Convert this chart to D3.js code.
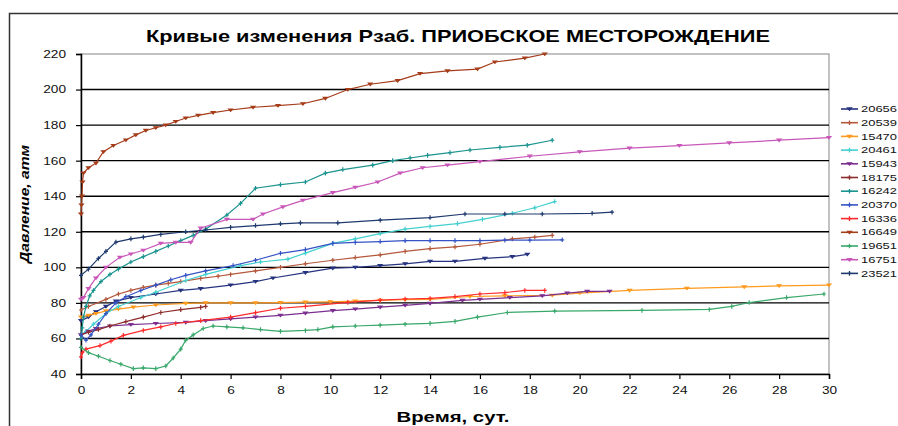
<!DOCTYPE html>
<html lang="ru">
  <head>
    <meta charset="utf-8" />
    <style>
      body { margin: 0; background: #fff; }
      svg { display: block; font-family: Arial, "Liberation Sans", sans-serif; }
    </style>
  </head>
  <body>
    <svg id="chart" width="898" height="426"></svg>
    <script src="https://cdn.jsdelivr.net/npm/d3@7"></script>
    <script>
      // well numbers in legend order
      const wells = ["20656", "20539", "15470", "20461", "15943", "18175", "16242",
                     "20370", "16336", "16649", "19651", "16751", "23521"];
      const colors = ["#26337f", "#b4583c", "#ff9a1e", "#45d0d0", "#7b2f8f", "#8e2d2d", "#1c9490",
                      "#3553c4", "#ff2b2b", "#a53c1a", "#39a86a", "#c957b9", "#1f3a6e"];
      const shapes = ["tri", "plus", "tri", "plus", "tri", "plus", "plus",
                      "plus", "plus", "tri", "plus", "tri", "plus"];

      // [day, pressure atm]
      const p20656 = [[0,70],[0.3,72],[0.6,75],[1,78],[1.4,81],[2,83],[3,85],[4,87],[4.8,88],
                      [6,90],[7,92],[7.7,94],[9,97],[10.1,99.5],[11,100],[12,101],[13,102],
                      [14,103.4],[15,103.4],[16.2,105],[17.3,106],[17.9,107.3]];
      const p20539 = [[0,76],[0.3,78],[1,82],[1.5,85],[2,87],[2.5,88.7],[3,90],[3.5,91],
                      [4,92],[4.8,93.8],[5.5,95],[6,96],[7,98],[8,100],[9,102],[10.1,104],
                      [11,105.5],[12,107],[13,109],[14,110.5],[15,111.5],[16,113],[17.3,116],
                      [18.2,117],[18.9,118]];
      const p15470 = [[0,72],[0.3,73],[0.6,74],[1,75.5],[1.5,76.5],[2.1,77.6],[3,78.8],[4.2,79.7],
                      [5,80],[6,80],[7,80],[8,80.2],[9,80.4],[10,80.6],[11,81],[12,81.4],[13,81.8],
                      [14,82],[15.6,83.6],[17,84],[18.9,84.3],[20,85.5],[22,87],[24.3,88.2],
                      [26.6,89],[28,89.6],[30,90]];
      const p20461 = [[0,62],[0.2,64],[0.5,68],[1,74],[1.5,78],[2.4,83],[3,86],[4.2,92.6],
                      [5,96],[6.4,101],[7.2,103],[8.3,104.6],[9,108],[10.1,113.5],[11,116],
                      [12,119],[13,121.5],[14,123],[15.1,124.6],[16.1,127],[17.3,130.4],
                      [18.2,133.5],[19,137]];
      const p15943 = [[0,62],[0.3,64],[0.6,65.5],[1.16,67],[2,67.8],[3,68.4],[4.2,69],[5,70],
                      [6,71],[7,72],[8,73],[9,74.2],[10.1,75.6],[11,76.5],[12,77.6],[13,78.6],
                      [14,79.7],[15.3,81.4],[16,82],[17.2,83],[18.5,84],[19.5,85.5],[20.3,86.5],
                      [21.2,86.5]];
      const p18175 = [[0,62],[0.3,63.5],[0.7,65],[1.16,67],[1.8,69.5],[2.5,72],[3.2,74.6],
                      [4,76.2],[4.8,77.5],[5,78]];
      const p16242 = [[0,60],[0.05,66],[0.1,72],[0.2,78],[0.35,84],[0.5,87],[0.8,92],[1.16,96],
                      [1.5,99],[2,103],[2.5,106],[3,109],[3.5,112],[4,115],[4.5,118],[5,121.5],
                      [5.85,129.4],[6.4,136],[7,144.5],[8,146.5],[9,148],[9.8,153],[10.5,155],
                      [11.7,157.5],[12.5,160],[13.2,161.5],[13.9,163],[14.8,164.5],[15.6,166],
                      [16.8,167.5],[17.9,168.7],[18.9,171.5]];
      const p20370 = [[0,62],[0.2,59],[0.4,62],[0.7,68],[1,74],[1.4,80],[1.8,83.5],[2.4,87],
                      [3,90],[3.6,93],[4.2,95.5],[5,98],[6.1,101],[7,104],[8,107.9],[9,110],
                      [10.1,113.5],[11,114],[12,114.5],[13,115],[14,115],[15,115],[16,115],
                      [17,115.3],[18,115.3],[19.3,115.5]];
      const p16336 = [[0,49.6],[0.05,52],[0.2,54],[0.76,56],[1.2,58.5],[1.7,61.7],[2.5,64.5],
                      [3.2,66.5],[3.8,68.4],[4.8,70],[6,72],[7,74.5],[8,77],[9,78],[10.7,80.3],
                      [12,81.5],[13,82.2],[14,82.5],[15,83.5],[16,85],[17,85.8],[17.8,87],[18.6,87]];
      const p16649 = [[0,130],[0.02,135],[0.04,140],[0.06,148],[0.1,153],[0.3,156],[0.6,158.6],
                      [0.9,165],[1.3,168.5],[1.8,171.6],[2.2,174.5],[2.6,177],[3,178.5],[3.4,180],
                      [3.8,182],[4.2,184],[4.7,185.5],[5.3,187],[6,188.5],[6.9,190],[7.9,191],
                      [8.9,192],[9.8,195],[10.7,200],[11.6,203],[12.7,205],[13.6,209],[14.7,210.5],
                      [15.9,211.5],[16.6,215.5],[17.8,217.7],[18.6,220]];
      const p19651 = [[0,55],[0.3,52],[0.7,50],[1.16,47.6],[1.6,45.5],[2.1,43],[2.5,43.5],[3,43],
                      [3.4,44.5],[3.7,49],[4,54],[4.2,59],[4.5,62],[4.9,65.6],[5.3,67],[5.85,66.5],
                      [6.5,66],[7.2,65],[8,64],[9,64.5],[9.5,65],[10.1,66.5],[11,67],[12,67.5],
                      [13,68],[14,68.5],[15,69.6],[15.9,72],[17.1,74.6],[19,75.4],[22.5,75.8],
                      [25.2,76.3],[26.1,78],[26.8,80.2],[28.3,83],[29.8,85]];
      const p16751 = [[0,82],[0.1,83],[0.3,88],[0.6,94],[1,100],[1.56,105.6],[2,107.5],[2.5,109.6],
                      [3.2,113.5],[3.8,114],[4.4,114],[4.8,122],[5.85,127],[6.9,127],[7.3,130],
                      [8.1,134],[8.9,137.7],[10.1,142],[11,145],[11.9,148],[12.8,153],[13.7,156],
                      [14.7,157.5],[16,159.5],[18,162.5],[20,165],[22,167],[24,168.5],[26,170],
                      [28,171.5],[30,173]];
      const p23521 = [[0,95.5],[0.3,99],[0.7,105],[1,109],[1.4,114.2],[2,116],[2.5,117],
                      [3.2,118.5],[4.2,120],[5,121],[6,122.5],[7,123.5],[8,124.5],[8.8,125],
                      [10.3,125],[12,126.5],[14,128],[15.4,130],[17,130],[18.5,130],[20.5,130.4],
                      [21.3,131]];
      const pressures = [p20656, p20539, p15470, p20461, p15943, p18175, p16242,
                         p20370, p16336, p16649, p19651, p16751, p23521];

      const xTicks = d3.range(0, 31, 2);
      const yTicks = d3.range(40, 221, 20);

      const svg = d3.select("#chart");
      const plotL = 81, plotR = 829, plotT = 54, plotB = 374;

      const x = d3.scaleLinear().domain([0, 30]).range([plotL, plotR]);
      const y = d3.scaleLinear().domain([40, 220]).range([plotB, plotT]);

      // outer chart frame (cut by the picture edge)
      svg.append("rect")
        .attr("x", 9.5).attr("y", 13.5)
        .attr("width", 1000).attr("height", 1000)
        .attr("fill", "none").attr("stroke", "#333").attr("stroke-width", 1.5);

      // plot area border
      svg.append("rect")
        .attr("x", plotL).attr("y", plotT)
        .attr("width", plotR - plotL).attr("height", plotB - plotT)
        .attr("fill", "none").attr("stroke", "#999").attr("stroke-width", 1.2);

      // grid
      svg.append("g")
        .selectAll("line")
        .data(yTicks.filter(v => v > 40 && v < 220))
        .join("line")
        .attr("x1", plotL).attr("x2", plotR)
        .attr("y1", d => y(d)).attr("y2", d => y(d))
        .attr("stroke", "#000").attr("stroke-width", 1.4);

      const xAxis = svg.append("g")
        .attr("transform", `translate(0,${plotB})`)
        .call(d3.axisBottom(x).tickValues(xTicks).tickSize(5).tickPadding(8));
      const yAxis = svg.append("g")
        .attr("transform", `translate(${plotL},0)`)
        .call(d3.axisLeft(y).tickValues(yTicks).tickSize(5).tickPadding(10));
      [xAxis, yAxis].forEach(a => {
        a.select(".domain").attr("stroke", "#000").attr("stroke-width", 1.5);
        a.selectAll(".tick line").attr("stroke", "#000").attr("stroke-width", 1.2);
        a.selectAll("text").attr("font-size", 10.5).attr("fill", "#111")
          .attr("font-family", "Arial, 'Liberation Sans', sans-serif")
          .attr("textLength", d => String(d).length * 7.6)
          .attr("lengthAdjust", "spacingAndGlyphs");
      });

      const line = d3.line().x(d => x(d[0])).y(d => y(d[1]));
      const markers = {
        plus: "M-2,0H2M0,-2.3V2.3",
        tri: "M-1.9,-1H1.9L0,1.3Z"
      };

      const plot = svg.append("g");
      pressures.forEach((pts, i) => {
        plot.append("path")
          .attr("d", line(pts))
          .attr("fill", "none")
          .attr("stroke", colors[i])
          .attr("stroke-width", 1.2);
        plot.append("g")
          .selectAll("path")
          .data(pts)
          .join("path")
          .attr("transform", d => `translate(${x(d[0])},${y(d[1])})`)
          .attr("d", markers[shapes[i]])
          .attr("fill", colors[i])
          .attr("stroke", colors[i])
          .attr("stroke-width", 1.2);
      });

      // title and axis labels
      svg.append("text")
        .attr("x", 458).attr("y", 42)
        .attr("text-anchor", "middle")
        .attr("font-size", 17).attr("font-weight", "bold")
        .attr("textLength", 624).attr("lengthAdjust", "spacingAndGlyphs")
        .text("Кривые изменения Рзаб. ПРИОБСКОЕ МЕСТОРОЖДЕНИЕ");
      svg.append("text")
        .attr("x", 453).attr("y", 422)
        .attr("text-anchor", "middle")
        .attr("font-size", 15).attr("font-weight", "bold")
        .attr("textLength", 113).attr("lengthAdjust", "spacingAndGlyphs")
        .text("Время, сут.");
      svg.append("text")
        .attr("transform", "translate(29,204) rotate(-90)")
        .attr("text-anchor", "middle")
        .attr("font-size", 13).attr("font-weight", "bold").attr("font-style", "italic")
        .attr("textLength", 118).attr("lengthAdjust", "spacingAndGlyphs")
        .text("Давление, атм");

      // legend
      const legend = svg.append("g")
        .selectAll("g")
        .data(wells)
        .join("g")
        .attr("transform", (d, i) => `translate(841,${109 + i * 13.7})`);
      legend.append("line")
        .attr("x1", 0).attr("x2", 17)
        .attr("stroke", (d, i) => colors[i]).attr("stroke-width", 1.6);
      legend.append("path")
        .attr("transform", "translate(8.5,0)")
        .attr("d", (d, i) => markers[shapes[i]])
        .attr("fill", (d, i) => colors[i])
        .attr("stroke", (d, i) => colors[i]).attr("stroke-width", 1.3);
      legend.append("text")
        .attr("x", 20).attr("dy", "0.35em")
        .attr("font-size", 9).attr("fill", "#111")
        .attr("textLength", 36).attr("lengthAdjust", "spacingAndGlyphs")
        .text(d => d);
    </script>
  </body>
</html>
